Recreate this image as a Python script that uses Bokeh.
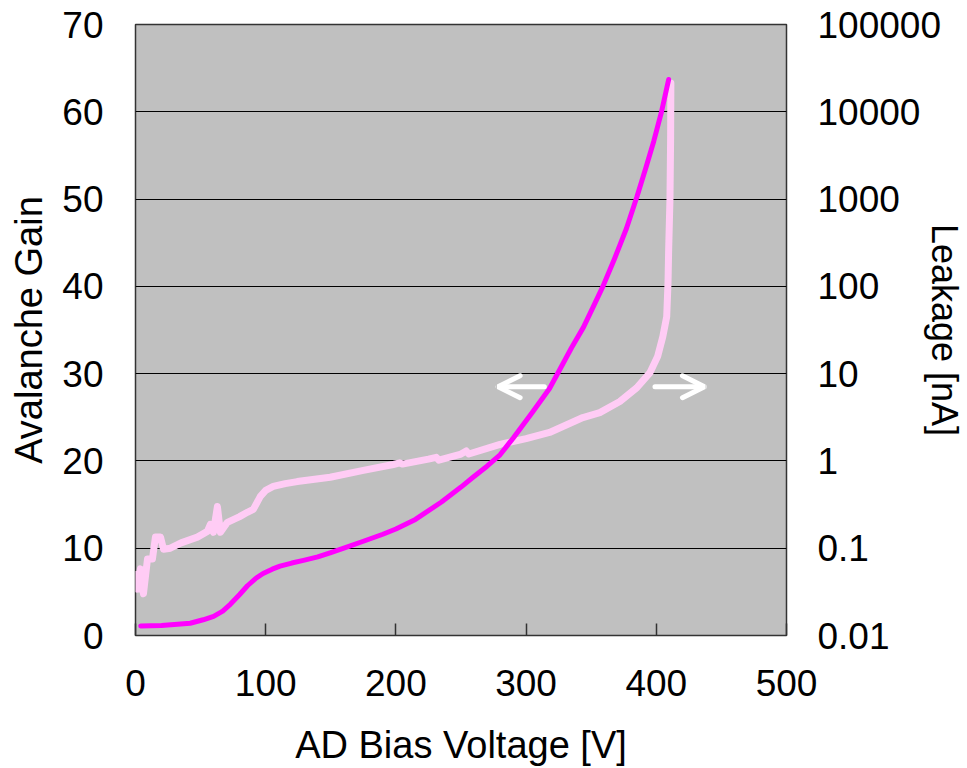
from bokeh.plotting import figure
from bokeh.models import (Range1d, LogScale, LogAxis, FixedTicker, CustomJSTickFormatter, Arrow, OpenHead)
from bokeh.embed import file_html
from bokeh.resources import INLINE

# Avalanche gain vs bias voltage
gain_voltage = [4, 20, 42, 52, 60, 67, 73, 80, 86, 92, 98, 105, 111, 120, 129, 140, 150, 160, 175, 190,
                200, 215, 235, 250, 259, 270, 280, 290, 295, 305, 318, 326, 335, 344, 352, 359, 368, 377,
                385, 392, 398, 404, 409.5]
gain = [1.1, 1.15, 1.4, 1.8, 2.2, 2.8, 3.6, 4.7, 5.7, 6.5, 7.1, 7.6, 7.95, 8.3, 8.6, 9.0, 9.5, 10.0, 10.8, 11.6,
        12.2, 13.3, 15.3, 17.0, 18.1, 19.4, 20.7, 22.6, 23.6, 25.6, 28.3, 30.5, 33.0, 35.3, 37.8, 40.0, 43.2, 46.6,
        50.2, 53.6, 56.6, 60.0, 63.7]

# Leakage current [nA] vs bias voltage
leak_voltage = [0, 1.5, 3.8, 6.1, 9.2, 13, 15.3, 19.2, 21.5, 26.8, 35, 47.5, 55.2, 57.5, 59.8, 62.9, 65.2, 70.6,
                80, 85.9, 90.5, 95.9, 100, 105.8, 115, 124.2, 149.5, 175, 198, 203, 205, 225, 231, 233, 250, 254,
                256, 280, 300, 318, 343.6, 356.6, 372, 385, 395, 401, 405, 408, 409, 409.5, 410.5, 411, 411.2]
leakage = [0.05, 0.034, 0.058, 0.030, 0.075, 0.075, 0.134, 0.134, 0.0975, 0.10, 0.115, 0.134, 0.156, 0.188, 0.152,
           0.30, 0.152, 0.198, 0.23, 0.258, 0.279, 0.393, 0.46, 0.51, 0.55, 0.58, 0.65, 0.78, 0.91, 0.95, 0.92,
           1.05, 1.1, 1.02, 1.2, 1.3, 1.2, 1.55, 1.8, 2.12, 3.14, 3.58, 4.8, 6.9, 10.2, 15.7, 26.5, 45, 110, 265,
           1000, 5000, 21400]

x_ticks = [0, 100, 200, 300, 400, 500]
gain_ticks = [0, 10, 20, 30, 40, 50, 60, 70]
leak_ticks = [0.01, 0.1, 1, 10, 100, 1000, 10000, 100000]

FONT = "Liberation Sans"
TICK_FS = "37px"
TITLE_FS = "38px"

p = figure(width=967, height=768, output_backend="svg", toolbar_location=None,
           x_range=Range1d(0, 500), y_range=Range1d(0, 70),
           min_border_left=135, min_border_right=180, min_border_top=24, min_border_bottom=131)
p.extra_y_ranges = {"leak": Range1d(0.01, 100000)}
p.extra_y_scales = {"leak": LogScale()}

p.background_fill_color = "#C0C0C0"
p.border_fill_color = "white"
p.outline_line_color = "#333333"
p.outline_line_width = 1.5

p.xgrid.grid_line_color = None
p.ygrid.grid_line_color = "black"
p.ygrid.grid_line_width = 1
p.ygrid.ticker = FixedTicker(ticks=gain_ticks)

xa = p.xaxis[0]
xa.ticker = FixedTicker(ticks=x_ticks)
xa.axis_label = "AD Bias Voltage [V]"
xa.major_tick_in = 12
xa.major_tick_out = 0
xa.minor_tick_line_color = None
xa.major_tick_line_color = "#333333"
xa.major_tick_line_width = 1.5
xa.axis_line_color = None
xa.major_label_standoff = 34
xa.axis_label_standoff = 25

ya = p.yaxis[0]
ya.ticker = FixedTicker(ticks=gain_ticks)
ya.axis_label = "Avalanche Gain"
ya.major_tick_in = 0
ya.major_tick_out = 0
ya.minor_tick_line_color = None
ya.axis_line_color = None
ya.major_label_standoff = 32
ya.axis_label_standoff = 9

ra = LogAxis(y_range_name="leak", ticker=FixedTicker(ticks=leak_ticks),
             formatter=CustomJSTickFormatter(code="""
                if (tick >= 1) { return Math.round(tick).toString(); }
                const d = Math.round(-Math.log10(tick));
                return tick.toFixed(d);
             """))
ra.axis_label = "Leakage [nA]"
ra.major_tick_in = 0
ra.major_tick_out = 0
ra.minor_tick_line_color = None
ra.axis_line_color = None
ra.major_label_standoff = 31
ra.axis_label_standoff = -20
p.add_layout(ra, "right")

for ax in (xa, ya, ra):
    ax.major_label_text_font = FONT
    ax.major_label_text_font_size = TICK_FS
    ax.major_label_text_color = "black"
    ax.axis_label_text_font = FONT
    ax.axis_label_text_font_size = TITLE_FS
    ax.axis_label_text_font_style = "normal"
    ax.axis_label_text_color = "black"
ra.axis_label_text_font_size = "36px"

p.line(leak_voltage, leakage, y_range_name="leak", line_color="#FFCCF5", line_width=7,
       line_join="round", line_cap="round")
p.line(gain_voltage, gain, line_color="#FF00FF", line_width=5, line_join="round", line_cap="round")

p.add_layout(Arrow(end=OpenHead(line_color="white", line_width=5, size=22, line_cap="round"),
                   x_start=314, y_start=28.5, x_end=278.5, y_end=28.5,
                   line_color="white", line_width=5, line_cap="round"))
p.add_layout(Arrow(end=OpenHead(line_color="white", line_width=5, size=22, line_cap="round"),
                   x_start=399, y_start=28.5, x_end=437, y_end=28.5,
                   line_color="white", line_width=5, line_cap="round"))

open("out.html", "w").write(file_html(p, INLINE))
